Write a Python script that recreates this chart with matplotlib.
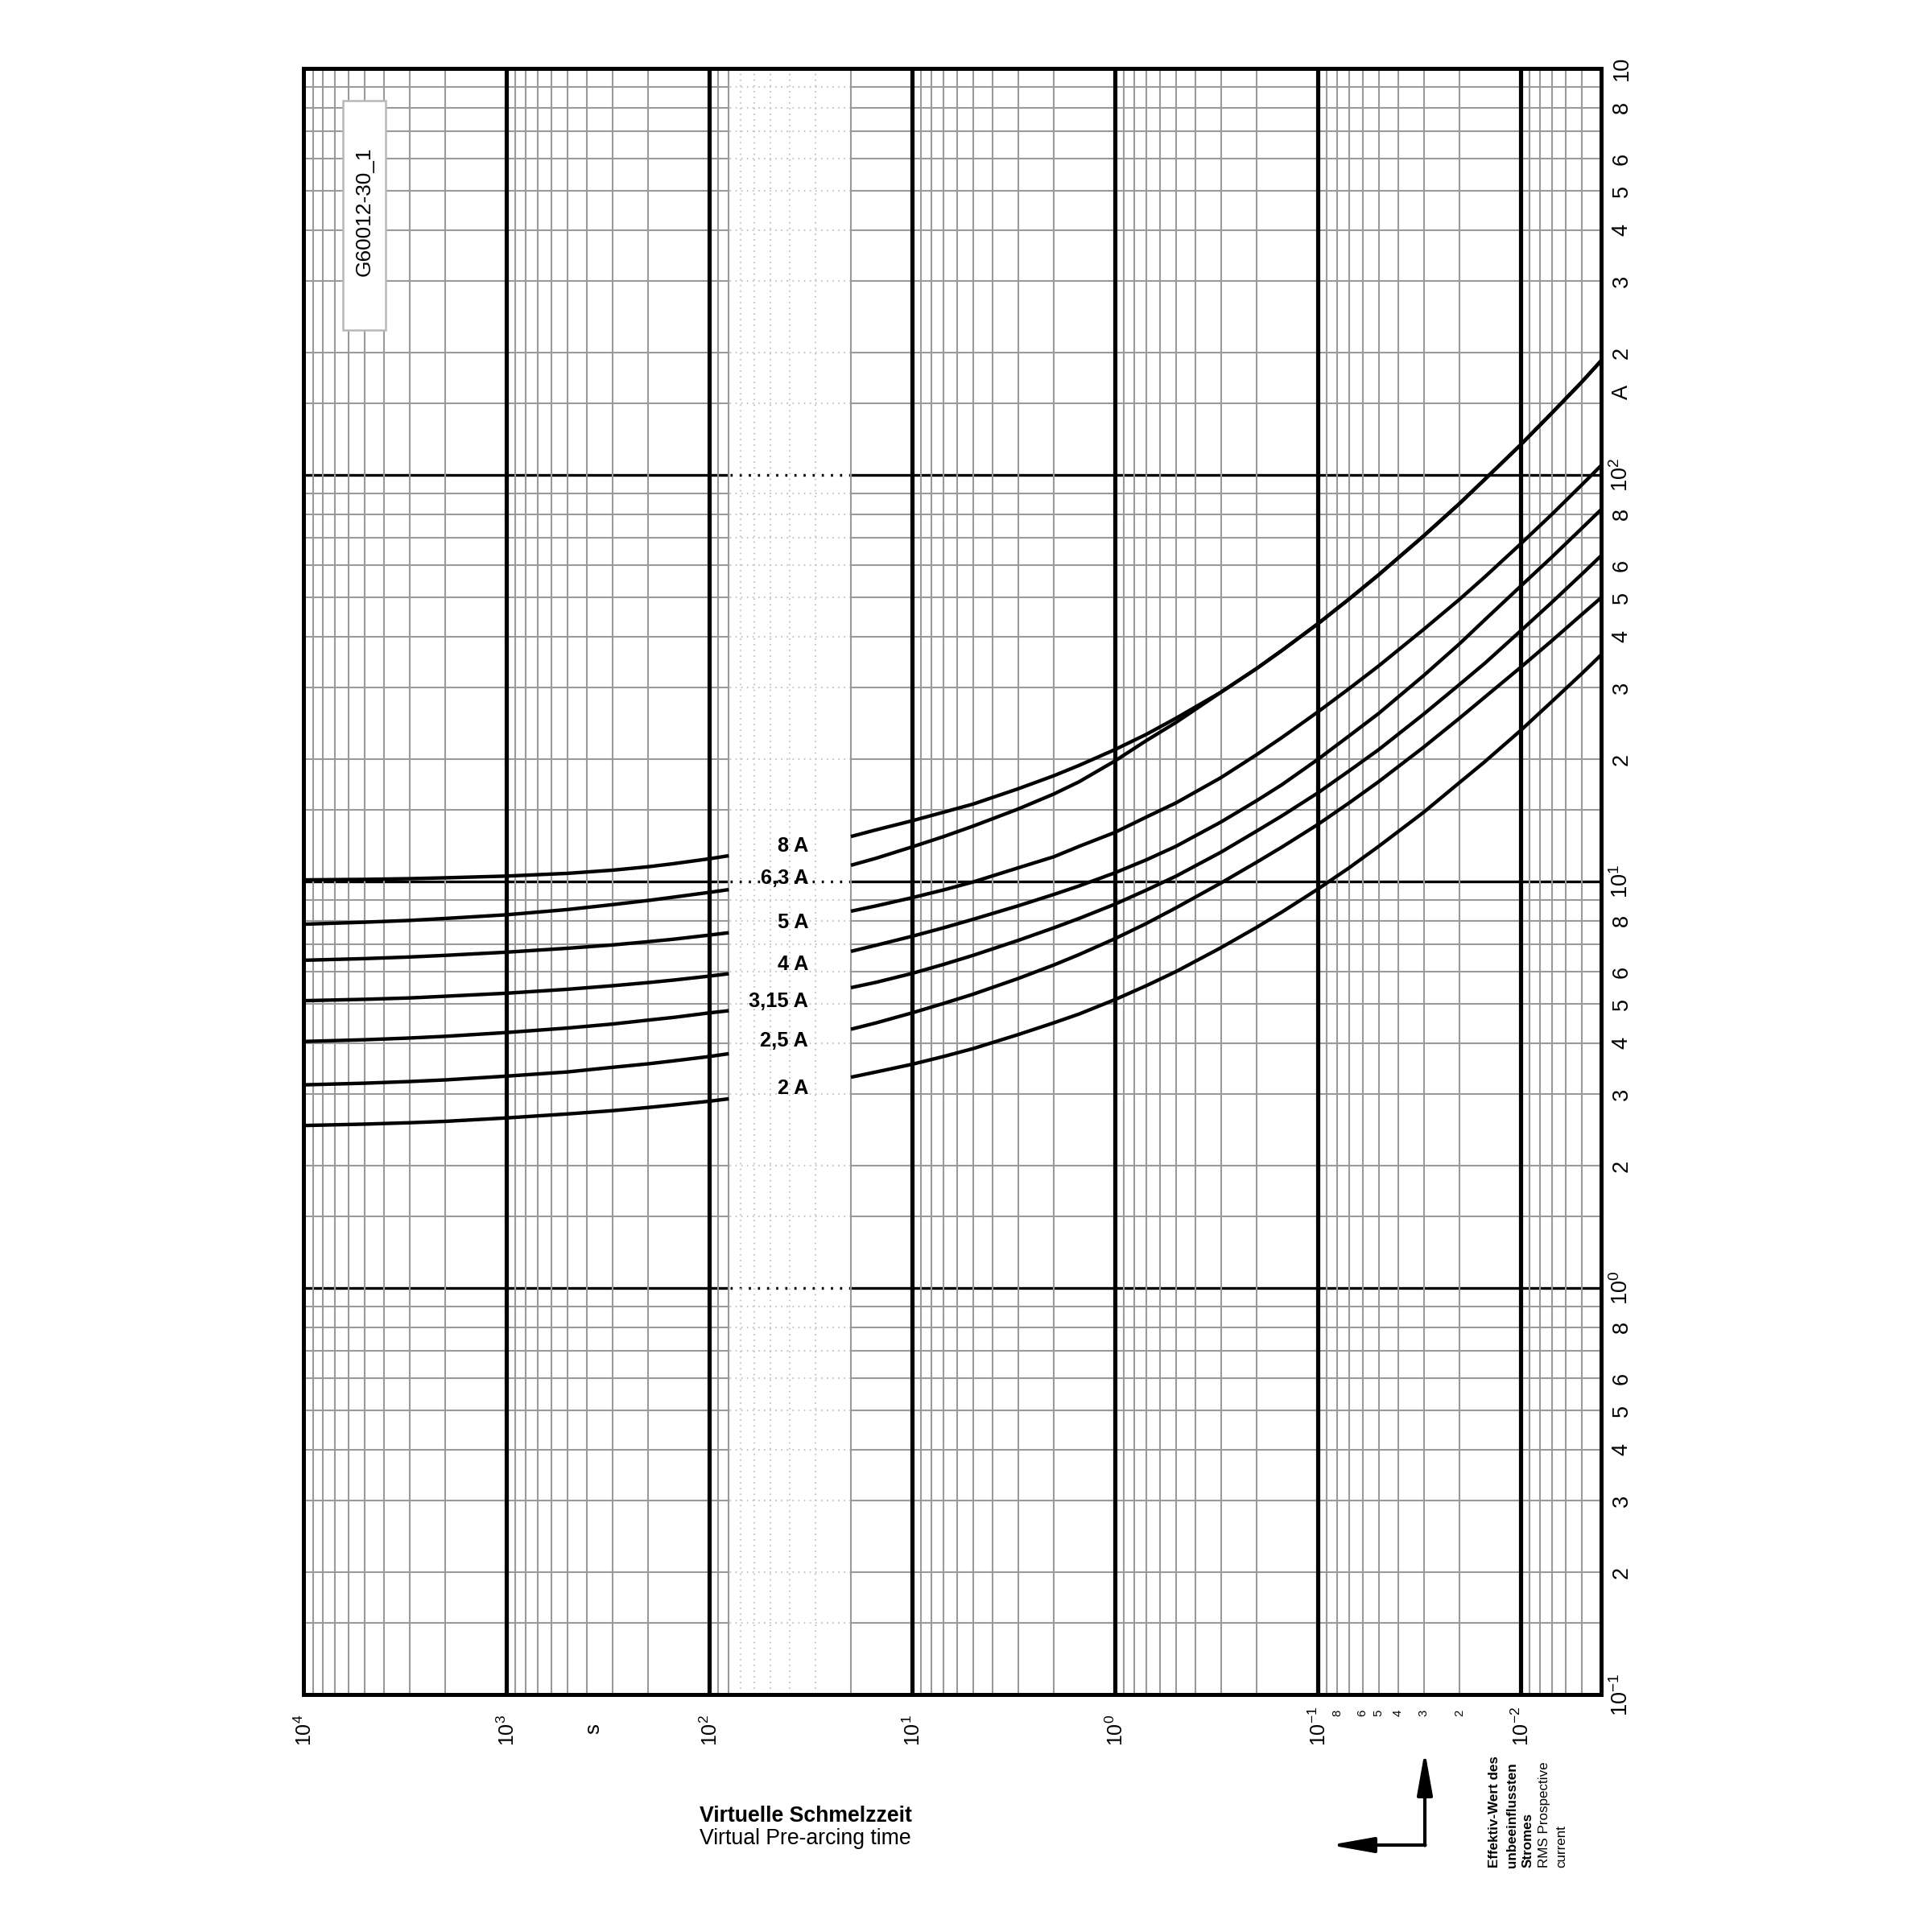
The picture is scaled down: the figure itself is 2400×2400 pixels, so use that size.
import matplotlib
matplotlib.use('Agg')
import matplotlib.pyplot as plt
from matplotlib import transforms
from matplotlib.patches import Rectangle
from matplotlib.ticker import NullLocator

plt.rcParams['font.family'] = ['Liberation Sans', 'DejaVu Sans']
plt.rcParams['mathtext.fontset'] = 'custom'
plt.rcParams['mathtext.rm'] = 'Liberation Sans'
plt.rcParams['mathtext.bf'] = 'Liberation Sans:bold'

# fuse ratings, top curve first
ratings = ['8 A', '6,3 A', '5 A', '4 A', '3,15 A', '2,5 A', '2 A']
label_i = [12.2, 10.2, 7.94, 6.24, 5.07, 4.06, 3.1]   # where the rating text sits (A)

# virtual pre-arcing time (s); curves are interrupted between 80 s and 20 s
t_long = [10000, 5000, 3000, 2000, 1000, 500, 300, 200, 150, 100, 80]
t_short = [20, 15, 10, 7, 5, 3, 2, 1.5, 1, 0.7, 0.5, 0.3, 0.2, 0.15, 0.1,
           0.07, 0.05, 0.03, 0.02, 0.015, 0.01, 0.007, 0.005, 0.004]

# prospective current (A)
i8_long = [10.09, 10.12, 10.16, 10.21, 10.31, 10.47, 10.66, 10.87, 11.06, 11.37, 11.57]
i8_short = [12.9, 13.4, 14.1, 14.8, 15.5, 16.9, 18.2, 19.3, 21.1, 23.0, 25.2, 29.2,
            33.4, 37.0, 43.0, 49.5, 56.8, 70.8, 85.0, 97.5, 118.5, 142, 169, 191]
i63_long = [7.85, 7.94, 8.02, 8.11, 8.28, 8.53, 8.77, 8.98, 9.15, 9.40, 9.55]
i63_short = [10.96, 11.41, 12.16, 12.89, 13.68, 15.07, 16.41, 17.59, 19.78, 22.2, 24.6, 29.2,
             33.4, 37.0, 43.0, 49.5, 56.8, 70.8, 85.0, 97.5, 118.5, 142, 169, 191]
i5_long = [6.40, 6.46, 6.52, 6.58, 6.70, 6.85, 6.98, 7.11, 7.21, 7.38, 7.48]
i5_short = [8.45, 8.71, 9.12, 9.53, 9.97, 10.8, 11.5, 12.2, 13.2, 14.4, 15.6, 18.0,
            20.5, 22.6, 26.1, 29.8, 33.9, 41.7, 49.4, 56.1, 67.6, 80.0, 94.4, 105.5]
i4_long = [5.09, 5.13, 5.17, 5.22, 5.31, 5.43, 5.54, 5.64, 5.72, 5.85, 5.93]
i4_short = [6.73, 6.97, 7.33, 7.69, 8.07, 8.71, 9.29, 9.75, 10.5, 11.3, 12.2, 14.0,
            15.8, 17.3, 19.95, 22.8, 25.9, 32.1, 38.4, 44.0, 53.2, 62.8, 73.8, 82.2]
i315_long = [4.04, 4.08, 4.12, 4.16, 4.25, 4.36, 4.46, 4.56, 4.63, 4.75, 4.81]
i315_short = [5.48, 5.65, 5.94, 6.25, 6.58, 7.16, 7.69, 8.11, 8.79, 9.52, 10.3, 11.8,
              13.3, 14.5, 16.5, 18.7, 21.1, 25.8, 30.5, 34.4, 41.3, 48.6, 56.9, 63.3]
i25_long = [3.16, 3.19, 3.22, 3.25, 3.32, 3.40, 3.49, 3.56, 3.62, 3.71, 3.77]
i25_short = [4.33, 4.49, 4.75, 5.01, 5.28, 5.77, 6.23, 6.61, 7.23, 7.88, 8.61, 9.91,
             11.15, 12.15, 13.8, 15.6, 17.6, 21.4, 25.2, 28.4, 33.6, 39.1, 45.3, 49.9]
i2_long = [2.51, 2.53, 2.55, 2.57, 2.62, 2.68, 2.73, 2.78, 2.82, 2.88, 2.92]
i2_short = [3.30, 3.40, 3.55, 3.71, 3.88, 4.20, 4.49, 4.72, 5.12, 5.54, 6.00, 6.87,
            7.71, 8.41, 9.57, 10.8, 12.2, 14.8, 17.5, 19.7, 23.5, 27.7, 32.4, 36.1]

curves = [(i8_long, i8_short), (i63_long, i63_short), (i5_long, i5_short),
          (i4_long, i4_short), (i315_long, i315_short), (i25_long, i25_short),
          (i2_long, i2_short)]

# axis labelling
x_dec = [1e4, 1e3, 1e2, 1e1, 1e0, 1e-1, 1e-2]
x_exp = ['4', '3', '2', '1', '0', '-1', '-2']
x_small = [0.08, 0.06, 0.05, 0.04, 0.03, 0.02]
x_small_txt = ['8', '6', '5', '4', '3', '2']
y_dec = [0.1, 1, 10, 100]
y_exp = ['-1', '0', '1', '2']
y_mant = [2, 3, 4, 5, 6, 8]

band = (20, 80)

fig = plt.figure(figsize=(8, 8), dpi=300)
W = 2400.0
ax = fig.add_axes([377 / W, 1 - 2105 / W, 1612 / W, 2020 / W])
ax.set_xscale('log')
ax.set_yscale('log')
ax.set_xlim(1e4, 4e-3)
ax.set_ylim(0.1, 1000)
ax.xaxis.set_major_locator(NullLocator())
ax.xaxis.set_minor_locator(NullLocator())
ax.yaxis.set_major_locator(NullLocator())
ax.yaxis.set_minor_locator(NullLocator())
for sp in ax.spines.values():
    sp.set_linewidth(1.2)
    sp.set_zorder(6)

grey = '#9a9a9a'
dots = (0, (0.8, 2.6))

# horizontal grid
for d in [0.1, 1, 10, 100]:
    for m in [1, 1.5, 2, 3, 4, 5, 6, 7, 8, 9]:
        y = d * m
        if y <= 0.1 or y >= 1000:
            continue
        major = (m == 1)
        ax.axhline(y, color='k' if major else grey, lw=0.8 if major else 0.5, zorder=1.0)
        ax.hlines(y, band[0], band[1], color='k' if major else '#c4c4c4',
                  lw=0.8 if major else 0.5, linestyles=[dots], zorder=1.2)

# white label band
ax.axvspan(band[0], band[1], color='white', lw=0, zorder=1.1)

# vertical grid
for d in [1e-3, 1e-2, 1e-1, 1, 10, 100, 1000]:
    for m in range(1, 10):
        t = d * m
        if t <= 4e-3 or t >= 1e4:
            continue
        major = (m == 1)
        if band[0] < t < band[1]:
            ax.axvline(t, color='#c4c4c4', lw=0.5, ls=dots, zorder=1.2)
        else:
            ax.axvline(t, color='k' if major else grey, lw=1.25 if major else 0.5, zorder=1.3)

# curves
for (il, ish) in curves:
    ax.plot(t_long, il, color='k', lw=1.05, solid_capstyle='butt', zorder=3)
    ax.plot(t_short, ish, color='k', lw=1.05, solid_capstyle='butt', zorder=3)

for name, yi in zip(ratings, label_i):
    ax.text(32.4, yi, name, ha='right', va='center', fontsize=6.1,
            fontweight='bold', zorder=4)

# right-hand current labels
px = 1 / 300.0
tr_y = transforms.blended_transform_factory(ax.transAxes, ax.transData) + \
    transforms.ScaledTranslation(32.7 * px, 0, fig.dpi_scale_trans)
ylab_kw = dict(transform=tr_y, rotation=90, rotation_mode='anchor',
               ha='center', va='baseline', fontsize=6.5, clip_on=False)
for d, e in zip(y_dec, y_exp):
    ax.text(1, d, r'$\mathregular{10^{%s}}$' % e, **ylab_kw)
    for m in y_mant:
        ax.text(1, d * m, str(m), **ylab_kw)
ax.text(1, 160, 'A', **ylab_kw)
ax.text(1, 1000, '10', **ylab_kw)

# bottom time labels
for t, e in zip(x_dec, x_exp):
    tr = transforms.blended_transform_factory(ax.transData, ax.transAxes) + \
        transforms.ScaledTranslation(10 * px, -64 * px, fig.dpi_scale_trans)
    ax.text(t, 0, r'$\mathregular{10^{%s}}$' % e, transform=tr, rotation=90,
            rotation_mode='anchor', ha='left', va='baseline', fontsize=6.0, clip_on=False)
tr_s = transforms.blended_transform_factory(ax.transData, ax.transAxes) + \
    transforms.ScaledTranslation(0, -23 * px, fig.dpi_scale_trans)
for t, s in zip(x_small, x_small_txt):
    ax.text(t, 0, s, transform=tr_s, rotation=90, ha='center', va='center',
            fontsize=3.6, clip_on=False)
tr_unit = transforms.blended_transform_factory(ax.transData, ax.transAxes) + \
    transforms.ScaledTranslation(0, -43 * px, fig.dpi_scale_trans)
ax.text(370, 0, 's', transform=tr_unit, rotation=90, ha='center', va='center',
        fontsize=6.2, clip_on=False)

# drawing number box
ax.add_patch(Rectangle((0.0301, 0.839), 0.0332, 0.141, transform=ax.transAxes,
                       facecolor='white', edgecolor='#b8b8b8', lw=0.6, zorder=5))
ax.text(0.0467, 0.912, 'G60012-30_1', transform=ax.transAxes, rotation=90,
        ha='center', va='center', fontsize=6.3, zorder=6)

# captions
fig.text(869 / W, 1 - 2263 / W, 'Virtuelle Schmelzzeit', fontsize=6.4,
         fontweight='bold', ha='left', va='baseline')
fig.text(869 / W, 1 - 2291 / W, 'Virtual Pre-arcing time', fontsize=6.4,
         ha='left', va='baseline')

# axis direction arrows
cx, cy = 1770 / W, 1 - 2292 / W
ax.annotate('', xy=(cx, 1 - 2175 / W), xytext=(cx, cy - 0.5 / W),
            xycoords='figure fraction', textcoords='figure fraction',
            arrowprops=dict(arrowstyle='-|>,head_length=0.9,head_width=0.16',
                            mutation_scale=12, lw=1.0, color='k', shrinkA=0, shrinkB=0))
ax.annotate('', xy=(1652 / W, cy), xytext=(cx + 0.5 / W, cy),
            xycoords='figure fraction', textcoords='figure fraction',
            arrowprops=dict(arrowstyle='-|>,head_length=0.9,head_width=0.16',
                            mutation_scale=12, lw=1.0, color='k', shrinkA=0, shrinkB=0))

note_lines = ['Effektiv-Wert des', 'unbeeinflussten', 'Stromes', 'RMS Prospective', 'current']
note_x = [1856.7, 1878.3, 1898.3, 1918.3, 1940.0]
for i, (s, x) in enumerate(zip(note_lines, note_x)):
    fig.text(x / W, 1 - 2320 / W, s, rotation=90, rotation_mode='anchor',
             ha='left', va='center', fontsize=4.1,
             fontweight='bold' if i < 3 else 'normal')

fig.savefig('out.png', dpi=300, facecolor='white')
